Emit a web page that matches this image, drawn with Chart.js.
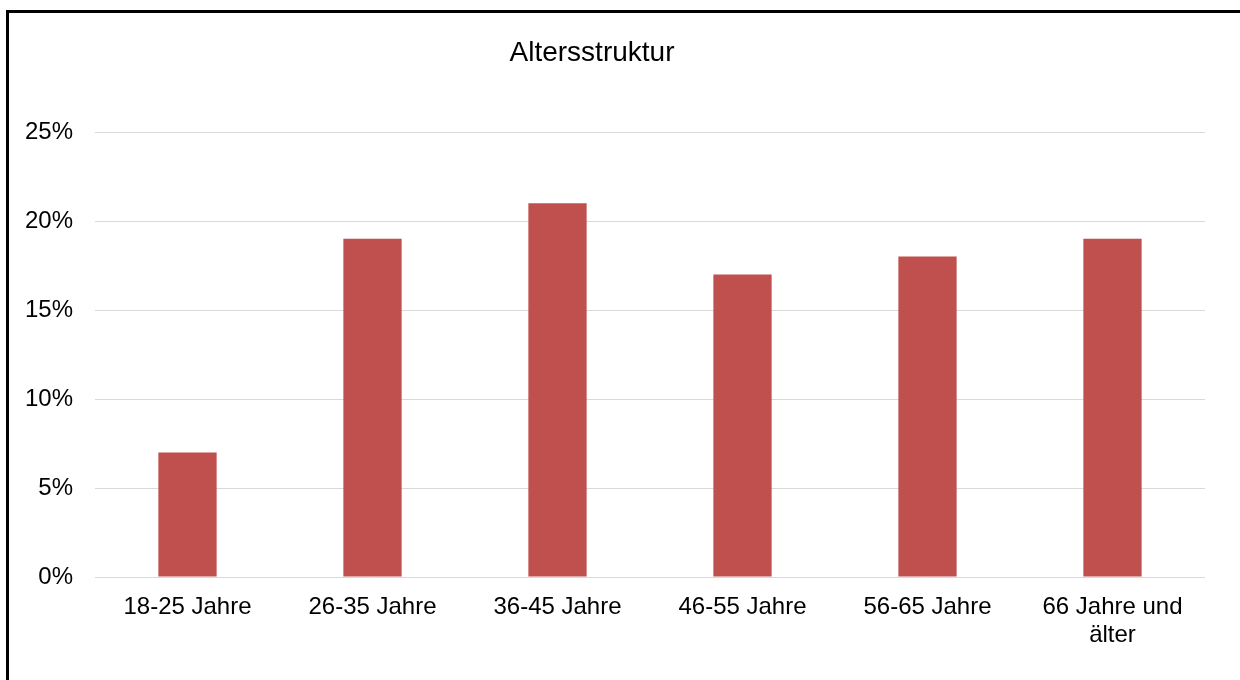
<!DOCTYPE html>
<html>
<head>
<meta charset="utf-8">
<title>Altersstruktur</title>
<script src="https://cdn.jsdelivr.net/npm/chart.js@4"></script>
<style>
    html, body { margin: 0; padding: 0; background: #fff; overflow: hidden; }
    #wrap { position: relative; width: 1240px; height: 680px; }
    #frame {
        position: absolute; left: 6px; top: 10px; width: 1300px; height: 800px;
        border: 3px solid #000; box-sizing: border-box;
    }
    #chart { position: absolute; left: 0; top: 0; }
</style>
</head>
<body>
<div id="wrap">
    <div id="frame"></div>
    <canvas id="chart" width="1240" height="680"></canvas>
</div>
<script>
// ---------- data ----------
const titel = 'Altersstruktur';
const kategorien = ['18-25 Jahre', '26-35 Jahre', '36-45 Jahre', '46-55 Jahre', '56-65 Jahre', ['66 Jahre und', 'älter']];
const anteile = [7, 19, 21, 17, 18, 19];
const yTicks = [0, 5, 10, 15, 20, 25];

const FONT = "'Liberation Sans', Arial, sans-serif";

// Titel leicht links von der Mitte, wie im Original
const titelPlugin = {
    id: 'titelPlugin',
    afterDraw(chart) {
        const ctx = chart.ctx;
        ctx.save();
        ctx.font = '28px ' + FONT;
        ctx.fillStyle = '#000';
        ctx.textAlign = 'center';
        ctx.textBaseline = 'middle';
        ctx.fillText(titel, 592, 53);
        ctx.restore();
    }
};

new Chart(document.getElementById('chart'), {
    type: 'bar',
    data: {
        labels: kategorien,
        datasets: [{
            data: anteile,
            backgroundColor: '#c0504d',
            borderWidth: 0,
            categoryPercentage: 1,
            barPercentage: 0.315
        }]
    },
    options: {
        responsive: false,
        animation: false,
        layout: { padding: { top: 132, right: 35, bottom: 0, left: 0 } },
        plugins: {
            legend: { display: false },
            tooltip: { enabled: false }
        },
        scales: {
            x: {
                grid: { display: false },
                border: { display: false },
                ticks: {
                    color: '#000',
                    font: { family: FONT, size: 24, lineHeight: 1.15 },
                    padding: 9,
                    maxRotation: 0,
                    autoSkip: false
                },
                afterFit(scale) { scale.height = 103; }
            },
            y: {
                min: 0,
                max: 25,
                afterBuildTicks(scale) { scale.ticks = yTicks.map(v => ({ value: v })); },
                grid: { color: '#d9d9d9', lineWidth: 1, drawTicks: false },
                border: { display: false },
                ticks: {
                    color: '#000',
                    font: { family: FONT, size: 24 },
                    padding: 22,
                    callback: v => v + '%'
                },
                afterFit(scale) { scale.width = 95; }
            }
        }
    },
    plugins: [titelPlugin]
});
</script>
</body>
</html>
